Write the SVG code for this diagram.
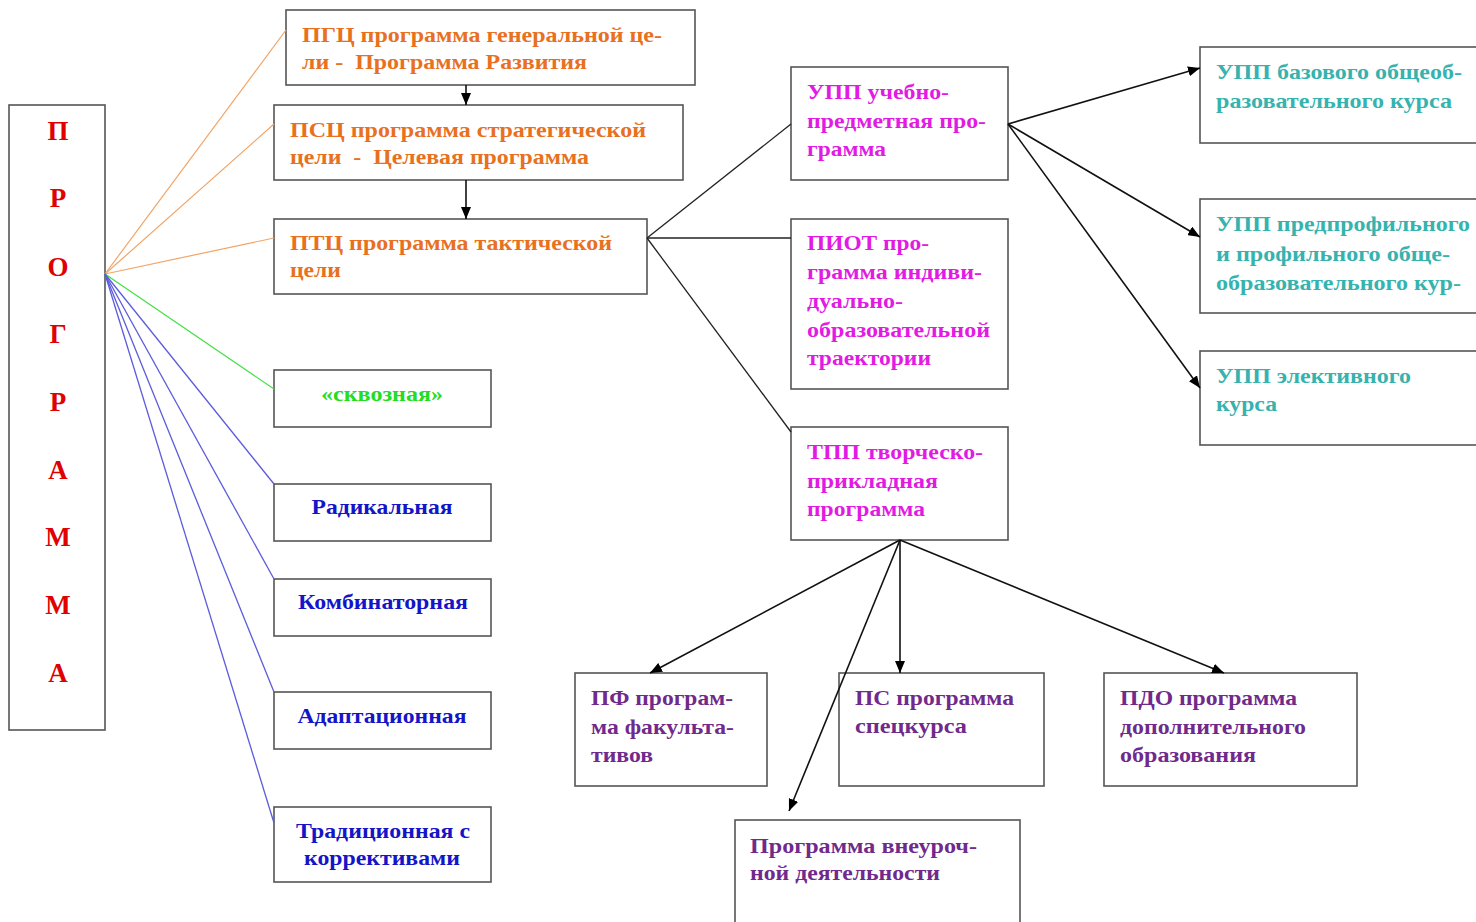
<svg xmlns="http://www.w3.org/2000/svg" width="1476" height="922" viewBox="0 0 1476 922">
<style>
.box{fill:#fff;stroke:#555;stroke-width:1.6}
.t{font-family:"Liberation Serif","Times New Roman",serif;font-weight:bold;font-size:21px;white-space:pre}
.or{fill:#e8701e}.mg{fill:#e21be2}.tl{fill:#36b3ae}.pu{fill:#702a8c}.bl{fill:#1414c8}.gr{fill:#22dd22}.rd{fill:#e00000}
.big{font-size:27px}
.lo{stroke:#f2a466;stroke-width:1.2;fill:none}
.lg{stroke:#44e044;stroke-width:1.2;fill:none}
.lb{stroke:#5c5cdc;stroke-width:1.3;fill:none}
.lk{stroke:#222;stroke-width:1.3;fill:none}
.la{stroke:#111;stroke-width:1.6;fill:none;marker-end:url(#ah)}
</style>
<defs>
<marker id="ah" viewBox="0 0 12 10" refX="12" refY="5" markerWidth="12" markerHeight="10" markerUnits="userSpaceOnUse" orient="auto">
<path d="M0,0 L12,5 L0,10 z" fill="#000"/>
</marker>
</defs>
<rect width="1476" height="922" fill="#fff"/>

<g id="programma">
<rect class="box" x="9" y="105" width="96" height="625"/>
<g class="t big rd" text-anchor="middle">
<text x="58" y="140">П</text>
<text x="58" y="207">Р</text>
<text x="58" y="276">О</text>
<text x="58" y="343">Г</text>
<text x="58" y="411">Р</text>
<text x="58" y="479">А</text>
<text x="58" y="546">М</text>
<text x="58" y="614">М</text>
<text x="58" y="682">А</text>
</g>
</g>

<g id="pgc">
<rect class="box" x="286" y="10" width="409" height="75"/>
<text class="t or" x="302" y="42" textLength="360" lengthAdjust="spacingAndGlyphs">ПГЦ программа генеральной це-</text>
<text class="t or" x="302" y="69" textLength="285" lengthAdjust="spacingAndGlyphs">ли -  Программа Развития</text>
</g>
<g id="psc">
<rect class="box" x="274" y="105" width="409" height="75"/>
<text class="t or" x="290" y="137" textLength="356" lengthAdjust="spacingAndGlyphs">ПСЦ программа стратегической</text>
<text class="t or" x="290" y="164" textLength="299" lengthAdjust="spacingAndGlyphs">цели  -  Целевая программа</text>
</g>
<g id="ptc">
<rect class="box" x="274" y="219" width="373" height="75"/>
<text class="t or" x="290" y="250" textLength="322" lengthAdjust="spacingAndGlyphs">ПТЦ программа тактической</text>
<text class="t or" x="290" y="277" textLength="51" lengthAdjust="spacingAndGlyphs">цели</text>
</g>

<g id="skvoznaya">
<rect class="box" x="274" y="370" width="217" height="57"/>
<text class="t gr" x="382" y="401" text-anchor="middle" textLength="122" lengthAdjust="spacingAndGlyphs">«сквозная»</text>
</g>
<g id="radikalnaya">
<rect class="box" x="274" y="484" width="217" height="57"/>
<text class="t bl" x="382" y="514" text-anchor="middle" textLength="141" lengthAdjust="spacingAndGlyphs">Радикальная</text>
</g>
<g id="kombinatornaya">
<rect class="box" x="274" y="579" width="217" height="57"/>
<text class="t bl" x="383" y="609" text-anchor="middle" textLength="170" lengthAdjust="spacingAndGlyphs">Комбинаторная</text>
</g>
<g id="adaptatsionnaya">
<rect class="box" x="274" y="692" width="217" height="57"/>
<text class="t bl" x="382" y="723" text-anchor="middle" textLength="169" lengthAdjust="spacingAndGlyphs">Адаптационная</text>
</g>
<g id="traditsionnaya">
<rect class="box" x="274" y="807" width="217" height="75"/>
<text class="t bl" x="383" y="838" text-anchor="middle" textLength="174" lengthAdjust="spacingAndGlyphs">Традиционная с</text>
<text class="t bl" x="382" y="865" text-anchor="middle" textLength="156" lengthAdjust="spacingAndGlyphs">коррективами</text>
</g>

<g id="upp">
<rect class="box" x="791" y="67" width="217" height="113"/>
<text class="t mg" x="807" y="99" textLength="142" lengthAdjust="spacingAndGlyphs">УПП учебно-</text>
<text class="t mg" x="807" y="128" textLength="179" lengthAdjust="spacingAndGlyphs">предметная про-</text>
<text class="t mg" x="807" y="156" textLength="79" lengthAdjust="spacingAndGlyphs">грамма</text>
</g>
<g id="piot">
<rect class="box" x="791" y="219" width="217" height="170"/>
<text class="t mg" x="807" y="250" textLength="122" lengthAdjust="spacingAndGlyphs">ПИОТ про-</text>
<text class="t mg" x="807" y="279" textLength="175" lengthAdjust="spacingAndGlyphs">грамма индиви-</text>
<text class="t mg" x="807" y="308" textLength="96" lengthAdjust="spacingAndGlyphs">дуально-</text>
<text class="t mg" x="807" y="337" textLength="183" lengthAdjust="spacingAndGlyphs">образовательной</text>
<text class="t mg" x="807" y="365" textLength="124" lengthAdjust="spacingAndGlyphs">траектории</text>
</g>
<g id="tpp">
<rect class="box" x="791" y="427" width="217" height="113"/>
<text class="t mg" x="807" y="459" textLength="176" lengthAdjust="spacingAndGlyphs">ТПП творческо-</text>
<text class="t mg" x="807" y="488" textLength="131" lengthAdjust="spacingAndGlyphs">прикладная</text>
<text class="t mg" x="807" y="516" textLength="118" lengthAdjust="spacingAndGlyphs">программа</text>
</g>

<g id="upp-baz">
<rect class="box" x="1200" y="47" width="290" height="96"/>
<text class="t tl" x="1216" y="79" textLength="246" lengthAdjust="spacingAndGlyphs">УПП базового общеоб-</text>
<text class="t tl" x="1216" y="108" textLength="236" lengthAdjust="spacingAndGlyphs">разовательного курса</text>
</g>
<g id="upp-prof">
<rect class="box" x="1200" y="199" width="290" height="114"/>
<text class="t tl" x="1216" y="231" textLength="254" lengthAdjust="spacingAndGlyphs">УПП предпрофильного</text>
<text class="t tl" x="1216" y="261" textLength="234" lengthAdjust="spacingAndGlyphs">и профильного обще-</text>
<text class="t tl" x="1216" y="290" textLength="245" lengthAdjust="spacingAndGlyphs">образовательного кур-</text>
</g>
<g id="upp-elekt">
<rect class="box" x="1200" y="351" width="290" height="94"/>
<text class="t tl" x="1216" y="383" textLength="195" lengthAdjust="spacingAndGlyphs">УПП элективного</text>
<text class="t tl" x="1216" y="411" textLength="61" lengthAdjust="spacingAndGlyphs">курса</text>
</g>

<g id="pf">
<rect class="box" x="575" y="673" width="192" height="113"/>
<text class="t pu" x="591" y="705" textLength="142" lengthAdjust="spacingAndGlyphs">ПФ програм-</text>
<text class="t pu" x="591" y="734" textLength="143" lengthAdjust="spacingAndGlyphs">ма факульта-</text>
<text class="t pu" x="591" y="762" textLength="62" lengthAdjust="spacingAndGlyphs">тивов</text>
</g>
<g id="ps">
<rect class="box" x="839" y="673" width="205" height="113"/>
<text class="t pu" x="855" y="705" textLength="159" lengthAdjust="spacingAndGlyphs">ПС программа</text>
<text class="t pu" x="855" y="733" textLength="112" lengthAdjust="spacingAndGlyphs">спецкурса</text>
</g>
<g id="pdo">
<rect class="box" x="1104" y="673" width="253" height="113"/>
<text class="t pu" x="1120" y="705" textLength="177" lengthAdjust="spacingAndGlyphs">ПДО программа</text>
<text class="t pu" x="1120" y="734" textLength="186" lengthAdjust="spacingAndGlyphs">дополнительного</text>
<text class="t pu" x="1120" y="762" textLength="136" lengthAdjust="spacingAndGlyphs">образования</text>
</g>
<g id="vneurochnaya">
<rect class="box" x="735" y="820" width="285" height="120"/>
<text class="t pu" x="750" y="853" textLength="227" lengthAdjust="spacingAndGlyphs">Программа внеуроч-</text>
<text class="t pu" x="750" y="880" textLength="190" lengthAdjust="spacingAndGlyphs">ной деятельности</text>
</g>

<g id="connectors">
<line class="lo" x1="105" y1="274" x2="286" y2="30"/>
<line class="lo" x1="105" y1="274" x2="274" y2="124"/>
<line class="lo" x1="105" y1="274" x2="274" y2="238"/>
<line class="lg" x1="105" y1="274" x2="274" y2="389"/>
<line class="lb" x1="105" y1="274" x2="274" y2="484"/>
<line class="lb" x1="105" y1="274" x2="274" y2="579"/>
<line class="lb" x1="105" y1="274" x2="274" y2="692"/>
<line class="lb" x1="105" y1="274" x2="274" y2="823"/>
<line class="la" x1="466" y1="85" x2="466" y2="105"/>
<line class="la" x1="466" y1="180" x2="466" y2="219"/>
<line class="lk" x1="647" y1="238" x2="791" y2="124"/>
<line class="lk" x1="647" y1="238" x2="791" y2="238"/>
<line class="lk" x1="647" y1="238" x2="791" y2="432"/>
<line class="la" x1="1008" y1="124" x2="1200" y2="68"/>
<line class="la" x1="1008" y1="124" x2="1200" y2="237"/>
<line class="la" x1="1008" y1="124" x2="1200" y2="388"/>
<line class="la" x1="900" y1="540" x2="650" y2="673"/>
<line class="la" x1="900" y1="540" x2="900" y2="673"/>
<line class="la" x1="900" y1="540" x2="1224" y2="673"/>
<line class="la" x1="900" y1="540" x2="789" y2="811"/>
</g>
</svg>
